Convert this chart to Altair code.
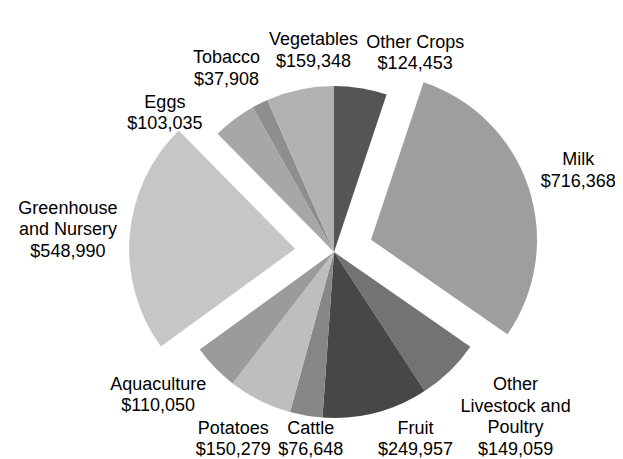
import math
import altair as alt
import pandas as pd

# ---- data -------------------------------------------------------------
categories = ["Other Crops", "Milk", "Other Livestock and Poultry", "Fruit",
              "Cattle", "Potatoes", "Aquaculture", "Greenhouse and Nursery",
              "Eggs", "Tobacco", "Vegetables"]
values = [124453, 716368, 149059, 249957, 76648, 150279, 110050, 548990,
          103035, 37908, 159348]
name_lines = [["Other Crops"], ["Milk"], ["Other", "Livestock and", "Poultry"],
              ["Fruit"], ["Cattle"], ["Potatoes"], ["Aquaculture"],
              ["Greenhouse", "and Nursery"], ["Eggs"], ["Tobacco"], ["Vegetables"]]
exploded = ["Milk", "Greenhouse and Nursery"]
colors = ["#555555", "#9e9e9e", "#737373", "#474747", "#878787", "#bebebe",
          "#9b9b9b", "#c6c6c6", "#a7a7a7", "#8e8e8e", "#b2b2b2"]

# ---- layout constants ----------------------------------------------------
W, H = 607, 451
CX, CY = 326, 244
R = 166
OFF = 39
PAD = 10
FS = 18
LH = 21.5
BOTTOM = H + 2   # lowest allowed edge of a label's line box
GAPX = 7

labels = [lines + ["${:,}".format(v)] for lines, v in zip(name_lines, values)]

# approximate Arial/Liberation Sans advance widths (em units)
CW = {"$": .556, ",": .278, " ": .278, "i": .222, "l": .222, "j": .222,
      "r": .333, "t": .278, "f": .278, "m": .833, "w": .722, "c": .5,
      "k": .5, "s": .5, "v": .5, "y": .5, "x": .5, "z": .5,
      "A": .667, "C": .722, "E": .667, "F": .611, "G": .778, "L": .556,
      "M": .833, "N": .722, "O": .778, "P": .667, "T": .611, "V": .667}


def tw(s):
    return sum(CW.get(c, .556) for c in s) * FS


n = len(values)
total = sum(values)
starts, mids, ends = [], [], []
acc = 0
for v in values:
    starts.append(2 * math.pi * acc / total)
    mids.append(2 * math.pi * (acc + v / 2) / total)
    acc += v
    ends.append(2 * math.pi * acc / total)

bw = [max(tw(l) for l in lab) for lab in labels]
bh = [len(lab) * LH for lab in labels]
ex = [OFF if c in exploded else 0 for c in categories]


def base(i):
    return (CX + ex[i] * math.sin(mids[i]), CY - ex[i] * math.cos(mids[i]))


def raw_center(i, th):
    bx, by = base(i)
    s, c = math.sin(th), -math.cos(th)
    d = R + PAD + abs(s) * bw[i] / 2 + abs(c) * bh[i] / 2
    return bx + d * s, by + d * c


def center(i, th):
    x, y = raw_center(i, th)
    return x, min(y, BOTTOM - bh[i] / 2)


def boxes_overlap(i, pi_, j, pj):
    return (abs(pi_[0] - pj[0]) < (bw[i] + bw[j]) / 2 + GAPX and
            abs(pi_[1] - pj[1]) < (bh[i] + bh[j]) / 2 + 1)


def overlap(i, j, th):
    return boxes_overlap(i, center(i, th[i]), j, center(j, th[j]))


def in_sector(k, px, py):
    bx, by = base(k)
    dx, dy = px - bx, py - by
    if dx * dx + dy * dy > (R + 3) ** 2:
        return False
    a = math.atan2(dx, -dy) % (2 * math.pi)
    return starts[k] <= a <= ends[k]


def hits_sector(i, k, th):
    x, y = center(i, th)
    pts = []
    for fx in (-.5, -.25, 0, .25, .5):
        for fy in (-.5, -.25, 0, .25, .5):
            pts.append((x + fx * bw[i], y + fy * bh[i]))
    return any(in_sector(k, px, py) for px, py in pts)


def sdiff(a, b):
    return (a - b + math.pi) % (2 * math.pi) - math.pi


th = mids[:]
step = math.radians(0.25)
for it in range(3000):
    moved = False
    for i in range(n):
        for j in range(i + 1, n):
            if overlap(i, j, th):
                sgn = 1 if sdiff(th[j], th[i]) >= 0 else -1
                th[j] += sgn * step
                th[i] -= sgn * step
                moved = True
        for k in range(n):
            if k != i and ex[k] and hits_sector(i, k, th[i]):
                th[i] += step if sdiff(th[i], mids[k]) >= 0 else -step
                moved = True
    # labels that stick out at the bottom turn towards the horizontal,
    # as long as that costs no new collision
    for i in range(n):
        if raw_center(i, th[i])[1] + bh[i] / 2 > BOTTOM:
            cand = th[i] + (-step if sdiff(th[i], math.pi) < 0 else step)
            pc = center(i, cand)
            ok = all(j == i or not boxes_overlap(i, pc, j, center(j, th[j]))
                     for j in range(n))
            ok = ok and not any(k != i and ex[k] and hits_sector(i, k, cand)
                                for k in range(n))
            if ok:
                th[i] = cand
                moved = True
    if not moved:
        break

lx, ly = [], []
for i in range(n):
    x, y = center(i, th[i])
    lx.append(x)
    # first line is anchored at y: shift so the block is centred
    ly.append(y - (len(labels[i]) - 1) * LH / 2)

df = pd.DataFrame({
    "order": list(range(n)),
    "cat": categories,
    "value": values,
    "explode": [1 if c in exploded else 0 for c in categories],
    "label": ["\n".join(l) for l in labels],
    "lx": lx,
    "ly": ly,
})

base_chart = alt.Chart(df)

arcs = base_chart.transform_window(
    cum="sum(value)", sort=[alt.SortField("order")], frame=[None, 0]
).transform_joinaggregate(
    total="sum(value)"
).transform_calculate(
    a0="2*PI*(datum.cum - datum.value)/datum.total",
    a1="2*PI*datum.cum/datum.total",
).transform_calculate(
    mid="(datum.a0 + datum.a1)/2"
).transform_calculate(
    px=f"{CX} + datum.explode*{OFF}*sin(datum.mid)",
    py=f"{CY} - datum.explode*{OFF}*cos(datum.mid)",
).mark_arc(radius=R).encode(
    theta=alt.Theta("a0:Q", scale=None),
    theta2="a1:Q",
    x=alt.X("px:Q", scale=None, axis=None),
    y=alt.Y("py:Q", scale=None, axis=None),
    color=alt.Color("cat:N", scale=alt.Scale(domain=categories, range=colors),
                    legend=None),
)

texts = base_chart.mark_text(
    font="Liberation Sans", fontSize=FS, lineHeight=LH, lineBreak="\n",
    align="center", baseline="middle", color="#000000"
).encode(
    x=alt.X("lx:Q", scale=None, axis=None),
    y=alt.Y("ly:Q", scale=None, axis=None),
    text="label:N",
)

chart = alt.layer(arcs, texts).properties(
    width=W, height=H, padding=0,
    autosize=alt.AutoSizeParams(type="none"),
).configure_view(stroke=None)

chart.save("out.html", embed_options={"renderer": "svg", "actions": False})
